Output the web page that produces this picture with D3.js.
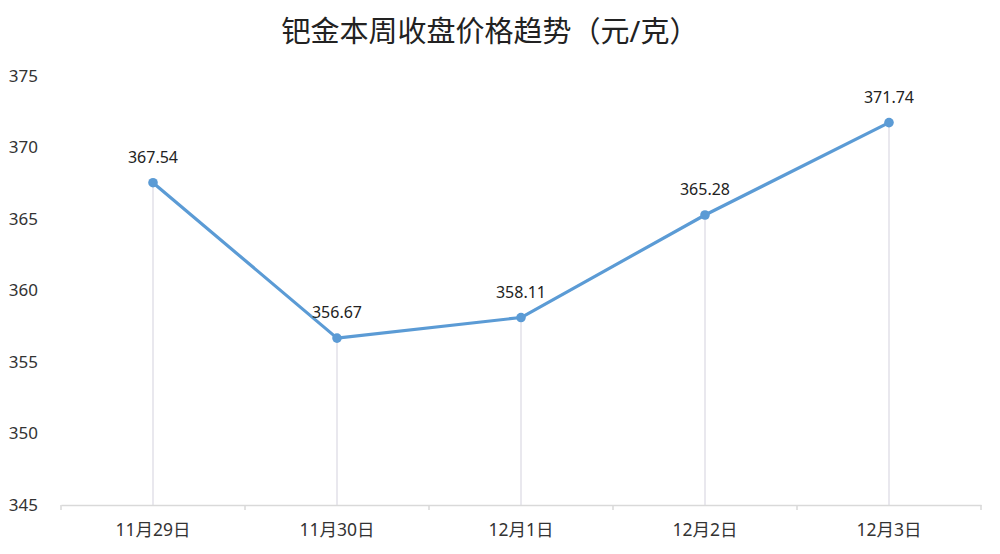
<!DOCTYPE html>
<html><head><meta charset="utf-8">
<script src="https://cdn.jsdelivr.net/npm/d3@7"></script>
<style>body{margin:0;background:#fff}svg{display:block}</style>
</head><body>
<svg id="c" width="1000" height="554"></svg>
<script>
const categories = ["11月29日","11月30日","12月1日","12月2日","12月3日"];
const values = [367.54, 356.67, 358.11, 365.28, 371.74];
const yTicks = [345, 350, 355, 360, 365, 370, 375];
const title = "钯金本周收盘价格趋势（元/克）";

const svg = d3.select("#c");
const font = "'Noto Sans','Noto Sans CJK SC',sans-serif";
const x = d3.scaleBand().domain(categories).range([61, 981]);
const y = d3.scaleLinear().domain([345, 375]).range([505, 76]);

svg.append("text").attr("x", 490).attr("y", 42).attr("text-anchor", "middle")
  .attr("font-family", font).attr("font-size", 29).attr("fill", "#222").text(title);

// y axis labels (no line)
const ya = svg.append("g").attr("transform", "translate(38,0)")
  .call(d3.axisLeft(y).tickValues(yTicks).tickSize(0).tickPadding(0));
ya.select(".domain").remove();
ya.selectAll("text").attr("font-family", font).attr("font-size", 17).attr("fill", "#333");

// drop lines
svg.append("g").selectAll("line").data(values).join("line")
  .attr("x1", (d, i) => x(categories[i]) + x.bandwidth() / 2)
  .attr("x2", (d, i) => x(categories[i]) + x.bandwidth() / 2)
  .attr("y1", d => y(d)).attr("y2", y(345))
  .attr("stroke", "#e2e0e8").attr("stroke-width", 1.5);

// x axis
const xa = svg.append("g").attr("transform", `translate(0,${y(345)})`)
  .call(d3.axisBottom(x).tickSize(0).tickPadding(19));
xa.select(".domain").attr("stroke", "#d9d9d9").attr("stroke-width", 1.5);
xa.selectAll("text").attr("font-family", font).attr("font-size", 17.5).attr("fill", "#333");
const bounds = categories.map(c => x(c)).concat([x.range()[1]]);
xa.selectAll(".bt").data(bounds).join("line").attr("class", "bt")
  .attr("x1", d => d).attr("x2", d => d).attr("y1", 0).attr("y2", 5)
  .attr("stroke", "#d9d9d9").attr("stroke-width", 1.5);

const cx = (d, i) => x(categories[i]) + x.bandwidth() / 2;
const line = d3.line().x(cx).y(d => y(d));
svg.append("path").datum(values).attr("d", line)
  .attr("fill", "none").attr("stroke", "#5b9bd5").attr("stroke-width", 3.2).attr("stroke-linejoin", "round");

svg.append("g").selectAll("circle").data(values).join("circle")
  .attr("cx", cx).attr("cy", d => y(d)).attr("r", 4.8).attr("fill", "#5b9bd5");

svg.append("g").selectAll("text").data(values).join("text")
  .attr("x", cx).attr("y", d => y(d) - 20).attr("text-anchor", "middle")
  .attr("font-family", font).attr("font-size", 16).attr("fill", "#222")
  .text(d => d.toFixed(2));
</script>
</body></html>
